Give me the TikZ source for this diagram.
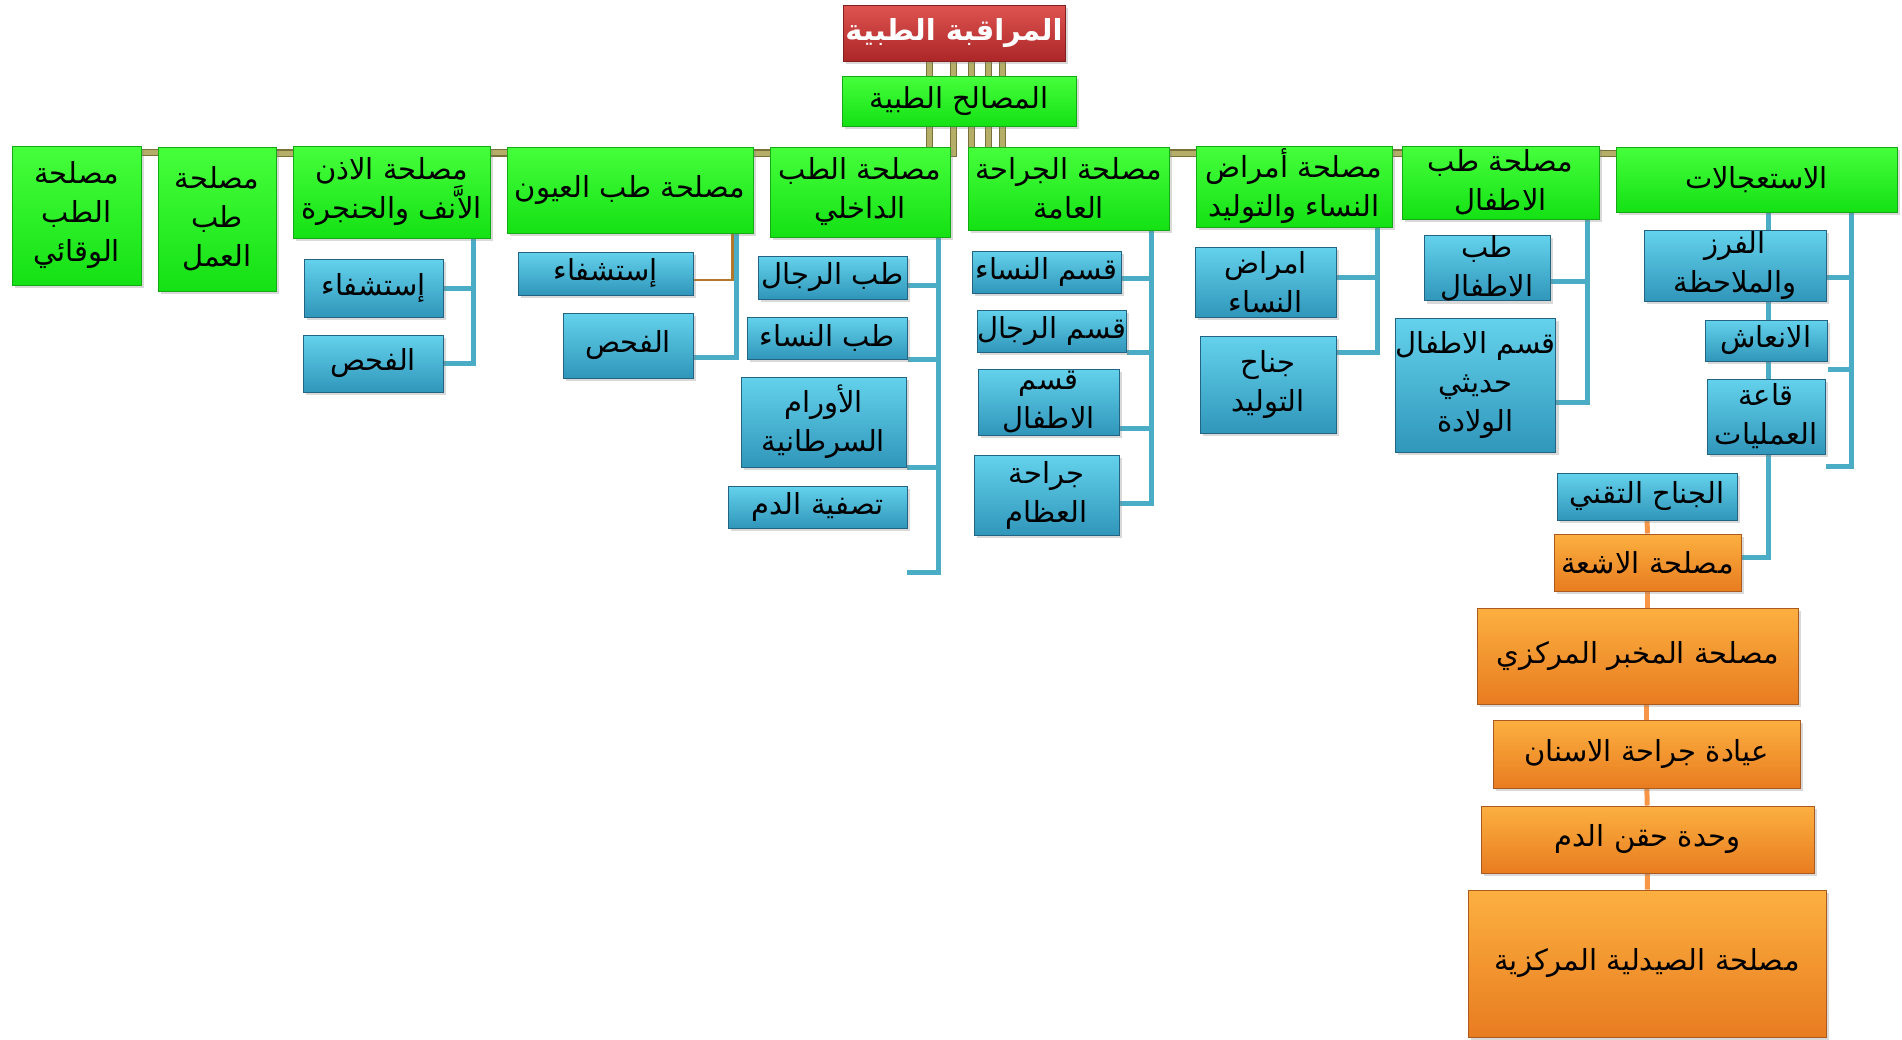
\documentclass[tikz,border=0pt]{standalone}
\usepackage{fontspec}
\newfontfamily\arabicfont[Script=Arabic]{DejaVu Sans}
\TeXXeTstate=1
\usetikzlibrary{backgrounds,shadows}
\newcommand{\rl}[1]{\beginR#1\endR}

\definecolor{redTop}{RGB}{222,84,80}
\definecolor{redBot}{RGB}{172,38,40}
\definecolor{redEdge}{RGB}{130,30,30}
\definecolor{greenTop}{RGB}{70,255,60}
\definecolor{greenBot}{RGB}{20,225,20}
\definecolor{greenEdge}{RGB}{20,170,20}
\definecolor{blueTop}{RGB}{100,210,236}
\definecolor{blueBot}{RGB}{48,150,186}
\definecolor{blueEdge}{RGB}{35,100,130}
\definecolor{orangeTop}{RGB}{252,176,64}
\definecolor{orangeBot}{RGB}{232,124,32}
\definecolor{orangeEdge}{RGB}{170,90,30}
\definecolor{barOlive}{RGB}{180,174,104}
\definecolor{barEdge}{RGB}{120,114,58}
\definecolor{linkBlue}{RGB}{75,172,198}
\definecolor{linkOrange}{RGB}{247,150,70}
\definecolor{linkBrown}{RGB}{176,120,40}

\tikzset{
  box/.style={rectangle, inner sep=0pt, align=center, line width=1pt,
    font=\arabicfont\fontsize{29}{39}\selectfont,
    drop shadow={shadow xshift=3pt, shadow yshift=-3pt, opacity=.3}},
  sz/.style 2 args={minimum width=#1pt, minimum height=#2pt},
  redbox/.style={box, draw=redEdge, top color=redTop, bottom color=redBot,
    text=white, font=\arabicfont\bfseries\fontsize{29}{39}\selectfont},
  greenbox/.style={box, draw=greenEdge, top color=greenTop, bottom color=greenBot},
  bluebox/.style={box, draw=blueEdge, top color=blueTop, bottom color=blueBot},
  orangebox/.style={box, draw=orangeEdge, top color=orangeTop, bottom color=orangeBot},
  olivelink/.style={draw=barEdge, line width=1pt, double=barOlive, double distance=5pt},
  bluelink/.style={draw=linkBlue, line width=5pt},
  orangelink/.style={draw=linkOrange, line width=5pt},
  brownlink/.style={draw=linkBrown, line width=2.5pt},
}

\begin{document}
\begin{tikzpicture}[x=1pt,y=-1pt]
  \useasboundingbox (0,0) rectangle (1902,1039);

  % top
  \node[redbox, sz={222}{56}] (watch) at (954,33) {\rl{المراقبة الطبية}};
  \node[greenbox, sz={234}{50}] (services) at (959,101) {\rl{المصالح الطبية}};

  % services
  \node[greenbox, sz={129}{139}] (prev) at (76.5,215.5) {\rl{مصلحة}\\\rl{الطب}\\\rl{الوقائي}};
  \node[greenbox, sz={118}{144}] (work) at (217,219) {\rl{مصلحة}\\\rl{طب}\\\rl{العمل}};
  \node[greenbox, sz={197}{92}] (ent) at (391.5,192) {\rl{مصلحة الاذن}\\\rl{الاَّنف والحنجرة}};
  \node[greenbox, sz={246}{86}] (eye) at (630,190) {\rl{مصلحة طب العيون}};
  \node[greenbox, sz={180}{90}] (intl) at (860,192) {\rl{مصلحة الطب}\\\rl{الداخلي}};
  \node[greenbox, sz={201}{83}] (surg) at (1068.5,188.5) {\rl{مصلحة الجراحة}\\\rl{العامة}};
  \node[greenbox, sz={196}{81}] (gyn) at (1294,186.5) {\rl{مصلحة أمراض}\\\rl{النساء والتوليد}};
  \node[greenbox, sz={197}{73}] (ped) at (1500.5,182.5) {\rl{مصلحة طب}\\\rl{الاطفال}};
  \node[greenbox, sz={281}{65}] (emer) at (1756.5,179.5) {\rl{الاستعجالات}};

  % units
  \node[bluebox, sz={139}{58}] (entA) at (373.5,288) {\rl{إستشفاء}};
  \node[bluebox, sz={140}{57}] (entB) at (373,363.5) {\rl{الفحص}};
  \node[bluebox, sz={175}{43}] (eyeA) at (605.5,273.5) {\rl{إستشفاء}};
  \node[bluebox, sz={130}{65}] (eyeB) at (628,345.5) {\rl{الفحص}};
  \node[bluebox, sz={149}{43}] (intlA) at (832.5,277.5) {\rl{طب الرجال}};
  \node[bluebox, sz={160}{42}] (intlB) at (827,338) {\rl{طب النساء}};
  \node[bluebox, sz={165}{90}] (intlC) at (823.5,422) {\rl{الأورام}\\\rl{السرطانية}};
  \node[bluebox, sz={179}{42}] (intlD) at (817.5,507) {\rl{تصفية الدم}};
  \node[bluebox, sz={149}{42}] (surgA) at (1046.5,272) {\rl{قسم النساء}};
  \node[bluebox, sz={139}{42}] (surgB) at (1051.5,331) {\rl{قسم الرجال}};
  \node[bluebox, sz={141}{66}] (surgC) at (1048.5,402) {\rl{قسم}\\\rl{الاطفال}};
  \node[bluebox, sz={145}{80}] (surgD) at (1046.5,495) {\rl{جراحة}\\\rl{العظام}};
  \node[bluebox, sz={141}{70}] (gynA) at (1265.5,282) {\rl{امراض}\\\rl{النساء}};
  \node[bluebox, sz={136}{97}] (gynB) at (1268,384.5) {\rl{جناح}\\\rl{التوليد}};
  \node[bluebox, sz={126}{64}] (pedA) at (1487,268) {\rl{طب}\\\rl{الاطفال}};
  \node[bluebox, sz={149}{134}] (pedB) at (1475.5,385) {\rl{قسم الاطفال}\\\rl{حديثي}\\\rl{الولادة}};
  \node[bluebox, sz={182}{71}] (emerA) at (1735,265.5) {\rl{الفرز}\\\rl{والملاحظة}};
  \node[bluebox, sz={122}{41}] (emerB) at (1766,340.5) {\rl{الانعاش}};
  \node[bluebox, sz={118}{75}] (emerC) at (1766,416.5) {\rl{قاعة}\\\rl{العمليات}};
  \node[bluebox, sz={180}{47}] (tech) at (1647,496.5) {\rl{الجناح التقني}};

  % technical wing
  \node[orangebox, sz={187}{57}] (xray) at (1647.5,562.5) {\rl{مصلحة الاشعة}};
  \node[orangebox, sz={321}{96}] (lab) at (1637.5,656) {\rl{مصلحة المخبر المركزي}};
  \node[orangebox, sz={307}{68}] (dent) at (1646.5,754) {\rl{عيادة جراحة الاسنان}};
  \node[orangebox, sz={333}{67}] (blood) at (1647.5,839.5) {\rl{وحدة حقن الدم}};
  \node[orangebox, sz={358}{147}] (pharm) at (1647,963.5) {\rl{مصلحة الصيدلية المركزية}};

  \coordinate (intlEnd) at (907,572);
  \coordinate (emerEnd) at (1826,466);

  \begin{scope}[on background layer]
    % bus
    \draw[olivelink] ([xshift=-25pt]watch.south) |- ([yshift=-7pt]prev.north);
    \draw[olivelink] ([xshift=-25pt]watch.south) |- ([yshift=-7pt]work.north);
    \draw[olivelink] ([xshift=-1pt]watch.south) |- ([yshift=-7pt]ent.north);
    \draw[olivelink] ([xshift=-1pt]watch.south) |- ([yshift=-7pt]eye.north);
    \draw[olivelink] ([xshift=-1pt]watch.south) |- ([yshift=-7pt]intl.north);
    \draw[olivelink] ([xshift=17pt]watch.south) |- ([yshift=-7pt]surg.north);
    \draw[olivelink] ([xshift=34pt]watch.south) |- ([yshift=-7pt]gyn.north);
    \draw[olivelink] ([xshift=48pt]watch.south) |- ([yshift=-7pt]ped.north);
    \draw[olivelink] ([xshift=48pt]watch.south) |- ([yshift=-7pt]emer.north);

    \draw[bluelink] ([xshift=-17pt]ent.south east) |- (entA.east);
    \draw[bluelink] ([xshift=-17pt]ent.south east) |- (entB.east);
    \draw[bluelink] ([xshift=-17pt]eye.south east) |- ([yshift=-11.5pt]eyeB.east);
    \draw[brownlink] ([xshift=-21pt]eye.south east) |- ([yshift=-6.5pt]eyeA.east);

    \draw[bluelink] ([xshift=-12pt]intl.south east) |- ([yshift=-8pt]intlA.east);
    \draw[bluelink] ([xshift=-12pt]intl.south east) |- (intlB.south east);
    \draw[bluelink] ([xshift=-12pt]intl.south east) |- (intlC.south east);
    \draw[bluelink] ([xshift=-12pt]intl.south east) |- (intlEnd);

    \draw[bluelink] ([xshift=-18pt]surg.south east) |- ([yshift=-6pt]surgA.east);
    \draw[bluelink] ([xshift=-18pt]surg.south east) |- (surgB.south east);
    \draw[bluelink] ([xshift=-18pt]surg.south east) |- ([yshift=-26pt]surgC.east);
    \draw[bluelink] ([xshift=-18pt]surg.south east) |- ([yshift=-8pt]surgD.east);

    \draw[bluelink] ([xshift=-15pt]gyn.south east) |- ([yshift=5pt]gynA.east);
    \draw[bluelink] ([xshift=-15pt]gyn.south east) |- ([yshift=32pt]gynB.east);

    \draw[bluelink] ([xshift=-12pt]ped.south east) |- ([yshift=-13pt]pedA.east);
    \draw[bluelink] ([xshift=-12pt]ped.south east) |- ([yshift=-17pt]pedB.east);

    \draw[bluelink] ([xshift=-46pt]emer.south east) |- ([yshift=-11.5pt]emerA.east);
    \draw[bluelink] ([xshift=-46pt]emer.south east) |- ([yshift=-28.5pt]emerB.east);
    \draw[bluelink] ([xshift=-46pt]emer.south east) |- (emerEnd);
    \draw[bluelink] ([xshift=11.5pt]emer.south) |- ([yshift=5pt]xray.east);

    \draw[orangelink] (tech) -- (xray);
    \draw[orangelink] (xray.south) -- (xray.south |- lab.north);
    \draw[orangelink] (lab.south -| dent.north) -- (dent);
    \draw[orangelink] (dent) -- (blood);
    \draw[orangelink] (blood) -- (pharm);
  \end{scope}
\end{tikzpicture}
\end{document}
